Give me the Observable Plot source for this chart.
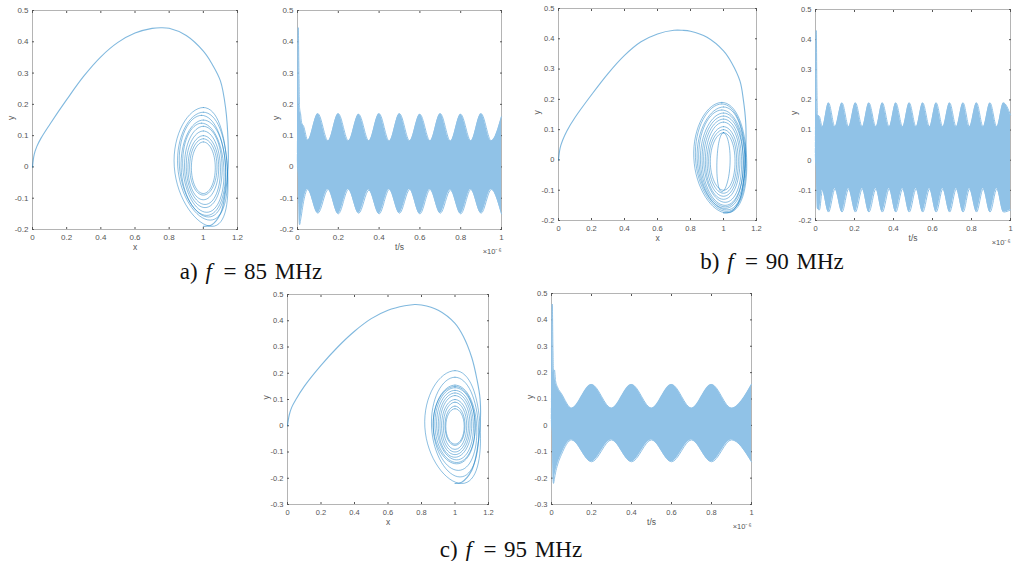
<!DOCTYPE html>
<html><head><meta charset="utf-8">
<script src="https://cdn.jsdelivr.net/npm/d3@7"></script>
<script src="https://cdn.jsdelivr.net/npm/@observablehq/plot@0.6"></script>
<style>
html,body{margin:0;padding:0;background:#fff;}
#fig{position:relative;width:1013px;height:561px;overflow:hidden;background:#fff;}
#fig svg{position:absolute;}
.cap{position:absolute;width:300px;text-align:center;font-family:"Liberation Serif","Times New Roman",serif;font-size:23px;word-spacing:2px;color:#111;white-space:nowrap;line-height:1;}
.cap i{font-style:italic;}
</style>
</head><body>
<div id="fig"></div>
<script>
// ---------- tick labels ----------
const xTicksPhase = [0, 0.2, 0.4, 0.6, 0.8, 1, 1.2];
const yTicksAB = [-0.2, -0.1, 0, 0.1, 0.2, 0.3, 0.4, 0.5];
const yTicksC = [-0.3, -0.2, -0.1, 0, 0.1, 0.2, 0.3, 0.4, 0.5];
const tTicks = [0, 0.2, 0.4, 0.6, 0.8, 1];

// ---------- captions ----------
const captionLetters = ["a)", "b)", "c)"];
const captionFreqs = ["85 MHz", "90 MHz", "95 MHz"];

// ---------- (a) f = 85 MHz ----------
const arcAx = [0, 0.01, 0.025, 0.05, 0.1, 0.2, 0.3, 0.4, 0.5, 0.6, 0.7, 0.75, 0.8, 0.9, 1.0, 1.05, 1.1, 1.13, 1.145, 1.145, 1.13, 1.1, 1.05, 1.0];
const arcAy = [0, 0.04, 0.065, 0.092, 0.135, 0.215, 0.29, 0.352, 0.398, 0.428, 0.443, 0.445, 0.443, 0.42, 0.37, 0.33, 0.275, 0.19, 0.08, 0.0, -0.08, -0.15, -0.185, -0.19];
const loopsAxl = [0.83, 0.85, 0.86, 0.87, 0.88, 0.89, 0.90, 0.91, 0.92, 0.93];
const loopsAxr = [1.14, 1.14, 1.13, 1.13, 1.12, 1.11, 1.10, 1.09, 1.08, 1.07];
const loopsAyb = [-0.19, -0.17, -0.16, -0.155, -0.145, -0.13, -0.12, -0.105, -0.09, -0.085];
const loopsAyt = [0.19, 0.175, 0.165, 0.15, 0.14, 0.13, 0.115, 0.10, 0.09, 0.08];
const loopsAxt = [1.0, 1.0, 0.99, 1.0, 0.99, 1.0, 1.0, 1.0, 1.0, 1.0];
const loopsAxb = [1.05, 1.04, 1.03, 1.02, 1.02, 1.01, 1.01, 1.0, 1.0, 1.0];
const tA = [0, 0.004, 0.007, 0.01, 0.015, 0.02, 0.03, 0.05, 0.1, 0.15, 0.2, 0.25, 0.3, 0.35, 0.4, 0.45, 0.5, 0.55, 0.6, 0.65, 0.7, 0.75, 0.8, 0.85, 0.9, 0.95, 1.0];
const upA = [0, 0.445, 0.30, 0.19, 0.17, 0.142, 0.13, 0.085, 0.17, 0.083, 0.17, 0.083, 0.168, 0.083, 0.17, 0.082, 0.17, 0.083, 0.168, 0.083, 0.17, 0.082, 0.168, 0.083, 0.17, 0.083, 0.16];
const loA = [0, -0.02, -0.12, -0.185, -0.17, -0.15, -0.11, -0.072, -0.148, -0.072, -0.15, -0.072, -0.148, -0.074, -0.15, -0.072, -0.148, -0.072, -0.15, -0.072, -0.148, -0.074, -0.15, -0.072, -0.148, -0.072, -0.15];

// ---------- (b) f = 90 MHz ----------
const arcBx = [0, 0.01, 0.025, 0.05, 0.1, 0.2, 0.3, 0.4, 0.5, 0.6, 0.7, 0.75, 0.8, 0.9, 1.0, 1.05, 1.1, 1.12, 1.135, 1.135, 1.125, 1.1, 1.05, 1.0];
const arcBy = [0, 0.04, 0.065, 0.095, 0.14, 0.215, 0.285, 0.345, 0.39, 0.416, 0.428, 0.428, 0.425, 0.405, 0.36, 0.32, 0.26, 0.2, 0.12, 0.03, -0.05, -0.13, -0.17, -0.175];
const loopsBxl = [0.82, 0.83, 0.84, 0.85, 0.86, 0.87, 0.88, 0.89, 0.90, 0.91, 0.92, 0.96];
const loopsBxr = [1.14, 1.135, 1.13, 1.13, 1.12, 1.12, 1.11, 1.10, 1.09, 1.08, 1.07, 1.04];
const loopsByb = [-0.175, -0.17, -0.165, -0.16, -0.155, -0.15, -0.14, -0.13, -0.12, -0.11, -0.10, -0.105];
const loopsByt = [0.19, 0.185, 0.175, 0.165, 0.155, 0.145, 0.135, 0.125, 0.11, 0.10, 0.09, 0.09];
const loopsBxt = [0.99, 0.99, 1.0, 0.99, 1.0, 1.0, 1.0, 1.0, 1.0, 1.0, 1.0, 1.0];
const loopsBxb = [1.02, 1.02, 1.02, 1.01, 1.01, 1.01, 1.01, 1.0, 1.0, 1.0, 1.0, 0.99];
const tB = [0, 0.004, 0.007, 0.01, 0.02, 0.035, 0.067, 0.10, 0.136, 0.17, 0.205, 0.24, 0.274, 0.31, 0.343, 0.378, 0.412, 0.447, 0.481, 0.516, 0.55, 0.585, 0.619, 0.653, 0.688, 0.722, 0.757, 0.79, 0.826, 0.86, 0.895, 0.93, 0.964, 1.0];
const upB = [0, 0.43, 0.25, 0.15, 0.145, 0.11, 0.19, 0.11, 0.19, 0.11, 0.19, 0.11, 0.19, 0.11, 0.19, 0.11, 0.19, 0.11, 0.19, 0.11, 0.19, 0.11, 0.19, 0.11, 0.19, 0.11, 0.19, 0.11, 0.19, 0.11, 0.19, 0.11, 0.19, 0.15];
const loB = [0, -0.02, -0.10, -0.16, -0.165, -0.10, -0.172, -0.095, -0.172, -0.095, -0.172, -0.095, -0.172, -0.095, -0.172, -0.095, -0.172, -0.095, -0.172, -0.095, -0.172, -0.095, -0.172, -0.095, -0.172, -0.095, -0.172, -0.095, -0.172, -0.095, -0.172, -0.095, -0.172, -0.165];

// ---------- (c) f = 95 MHz ----------
const arcCx = [0, 0.01, 0.025, 0.05, 0.1, 0.2, 0.3, 0.4, 0.5, 0.6, 0.7, 0.76, 0.8, 0.9, 1.0, 1.05, 1.1, 1.13, 1.15, 1.15, 1.13, 1.1, 1.04, 1.0];
const arcCy = [0, 0.04, 0.07, 0.10, 0.15, 0.23, 0.30, 0.36, 0.408, 0.44, 0.457, 0.462, 0.46, 0.44, 0.39, 0.34, 0.26, 0.18, 0.1, 0.0, -0.1, -0.17, -0.215, -0.22];
const loopsCxl = [0.82, 0.86, 0.87, 0.87, 0.88, 0.89, 0.90, 0.91, 0.92, 0.93, 0.94, 0.945];
const loopsCxr = [1.15, 1.14, 1.13, 1.12, 1.12, 1.11, 1.10, 1.09, 1.08, 1.07, 1.06, 1.055];
const loopsCyb = [-0.22, -0.195, -0.17, -0.145, -0.14, -0.13, -0.12, -0.11, -0.10, -0.09, -0.075, -0.07];
const loopsCyt = [0.21, 0.185, 0.155, 0.15, 0.145, 0.135, 0.125, 0.115, 0.10, 0.09, 0.075, 0.065];
const loopsCxt = [1.0, 1.0, 1.0, 1.0, 1.0, 1.0, 1.0, 1.0, 1.0, 1.0, 1.0, 1.0];
const loopsCxb = [1.04, 1.03, 1.02, 1.01, 1.01, 1.01, 1.0, 1.0, 1.0, 1.0, 1.0, 1.0];
const tC = [0, 0.004, 0.007, 0.01, 0.015, 0.02, 0.03, 0.05, 0.1, 0.2, 0.3, 0.4, 0.5, 0.6, 0.7, 0.8, 0.9, 1.0];
const upC = [0, 0.46, 0.30, 0.20, 0.21, 0.17, 0.145, 0.12, 0.065, 0.155, 0.065, 0.155, 0.065, 0.155, 0.065, 0.155, 0.065, 0.155];
const loC = [0, -0.02, -0.15, -0.22, -0.20, -0.18, -0.15, -0.11, -0.055, -0.138, -0.055, -0.138, -0.055, -0.138, -0.055, -0.138, -0.055, -0.138];

// ---------- helpers ----------
const fig = document.getElementById("fig");
const fmt = d => String(d);
const LINE = "#0072BD";
const FILL = "#90c2e7";

function axesMarks(xTicks, yTicks) {
  const blank = () => "";
  return [
    Plot.frame({stroke: "#b4b4b4", strokeWidth: 1}),
    Plot.axisX({ticks: xTicks, tickSize: 0, tickPadding: 5, tickFormat: fmt, label: null}),
    Plot.axisX({ticks: xTicks, tickSize: -2, tickFormat: blank, label: null}),
    Plot.axisX({anchor: "top", ticks: xTicks, tickSize: -2, tickFormat: blank, label: null}),
    Plot.axisY({ticks: yTicks, tickSize: 0, tickPadding: 4, tickFormat: fmt, label: null}),
    Plot.axisY({ticks: yTicks, tickSize: -2, tickFormat: blank, label: null}),
    Plot.axisY({anchor: "right", ticks: yTicks, tickSize: -2, tickFormat: blank, label: null})
  ];
}

function place(svg, L) {
  svg.style.left = (L.fx - L.mL) + "px";
  svg.style.top = (L.fy - L.mT) + "px";
  fig.appendChild(svg);
}

function labelMarks(xl, timeAxis) {
  const m = [
    Plot.text([xl], {frameAnchor: "bottom", dy: 20, text: d => d, fontSize: 8.5, fill: "#555"}),
    Plot.text(["y"], {frameAnchor: "left", dx: -21, rotate: -90, text: d => d, fontSize: 8.5, fill: "#555"})
  ];
  if (timeAxis) m.push(Plot.text(["\u00d710\u207b\u2076"], {frameAnchor: "bottom-right", dy: 24, textAnchor: "end", text: d => d, fontSize: 7.5, fill: "#555"}));
  return m;
}

function phasePanel(L, ax, ay, xl, xr, yb, yt, xt, xb, yTicks, yDomain) {
  const arc = ax.map((x, i) => ({x, y: ay[i]}));
  const loops = [];
  xl.forEach((_, i) => {
    const cy = (yt[i] + yb[i]) / 2;
    loops.push({x: xr[i], y: cy, z: i});
    loops.push({x: xt[i], y: yt[i], z: i});
    loops.push({x: xl[i], y: cy, z: i});
    loops.push({x: xb[i], y: yb[i], z: i});
  });
  const svg = Plot.plot({
    width: L.fw + L.mL + L.mR, height: L.fh + L.mT + L.mB,
    marginLeft: L.mL, marginRight: L.mR, marginTop: L.mT, marginBottom: L.mB,
    style: {fontFamily: "'Liberation Sans', Arial, sans-serif", fontSize: L.fs + "px", color: "#555", background: "transparent", overflow: "visible"},
    x: {domain: [0, 1.2]},
    y: {domain: yDomain},
    marks: [
      ...axesMarks(xTicksPhase, yTicks),
      Plot.line(loops, {x: "x", y: "y", z: "z", curve: "cardinal-closed", tension: -0.66, stroke: LINE, strokeOpacity: 0.45, strokeWidth: 1}),
      Plot.line(arc, {x: "x", y: "y", curve: "catmull-rom", stroke: LINE, strokeOpacity: 0.5, strokeWidth: 1.1}),
      ...labelMarks("x", false)
    ]
  });
  place(svg, L);
}

function timePanel(L, t, up, lo, yTicks, yDomain) {
  const env = t.map((tt, i) => ({t: tt, hi: up[i], lo: lo[i]}));
  const svg = Plot.plot({
    width: L.fw + L.mL + L.mR, height: L.fh + L.mT + L.mB,
    marginLeft: L.mL, marginRight: L.mR, marginTop: L.mT, marginBottom: L.mB,
    style: {fontFamily: "'Liberation Sans', Arial, sans-serif", fontSize: L.fs + "px", color: "#555", background: "transparent", overflow: "visible"},
    x: {domain: [0, 1]},
    y: {domain: yDomain},
    marks: [
      ...axesMarks(tTicks, yTicks),
      Plot.areaY(env, {x: "t", y1: "lo", y2: "hi", curve: "monotone-x", fill: FILL}),
      Plot.line(env, {x: "t", y: "hi", curve: "monotone-x", stroke: FILL, strokeWidth: 1}),
      Plot.line(env, {x: "t", y: "lo", curve: "monotone-x", stroke: FILL, strokeWidth: 1}),
      ...labelMarks("t/s", true)
    ]
  });
  place(svg, L);
}

// layouts (frame position in page px)
const LaP = {fx: 32, fy: 10, fw: 205, fh: 219, mL: 30, mR: 8, mT: 6, mB: 30, fs: 8};
const LaT = {fx: 297, fy: 10, fw: 204, fh: 219, mL: 30, mR: 8, mT: 6, mB: 30, fs: 8};
const LbP = {fx: 558, fy: 8, fw: 198, fh: 212, mL: 30, mR: 8, mT: 6, mB: 30, fs: 7.5};
const LbT = {fx: 815, fy: 9, fw: 195, fh: 211, mL: 30, mR: 3, mT: 6, mB: 30, fs: 7.5};
const LcP = {fx: 287, fy: 294, fw: 201, fh: 210, mL: 30, mR: 8, mT: 6, mB: 30, fs: 7.5};
const LcT = {fx: 551, fy: 293, fw: 200, fh: 211, mL: 30, mR: 8, mT: 6, mB: 30, fs: 7.5};

phasePanel(LaP, arcAx, arcAy, loopsAxl, loopsAxr, loopsAyb, loopsAyt, loopsAxt, loopsAxb, yTicksAB, [-0.2, 0.5]);
timePanel(LaT, tA, upA, loA, yTicksAB, [-0.2, 0.5]);
phasePanel(LbP, arcBx, arcBy, loopsBxl, loopsBxr, loopsByb, loopsByt, loopsBxt, loopsBxb, yTicksAB, [-0.2, 0.5]);
timePanel(LbT, tB, upB, loB, yTicksAB, [-0.2, 0.5]);
phasePanel(LcP, arcCx, arcCy, loopsCxl, loopsCxr, loopsCyb, loopsCyt, loopsCxt, loopsCxb, yTicksC, [-0.3, 0.5]);
timePanel(LcT, tC, upC, loC, yTicksC, [-0.3, 0.5]);

// captions
const capPos = [[251, 260], [772, 250], [511, 538]];
capPos.forEach(([cx, top], i) => {
  const d = document.createElement("div");
  d.className = "cap";
  d.style.left = (cx - 150) + "px";
  d.style.top = top + "px";
  d.innerHTML = captionLetters[i] + " <i>f</i>&ensp;= " + captionFreqs[i];
  fig.appendChild(d);
});
</script>
</body></html>
